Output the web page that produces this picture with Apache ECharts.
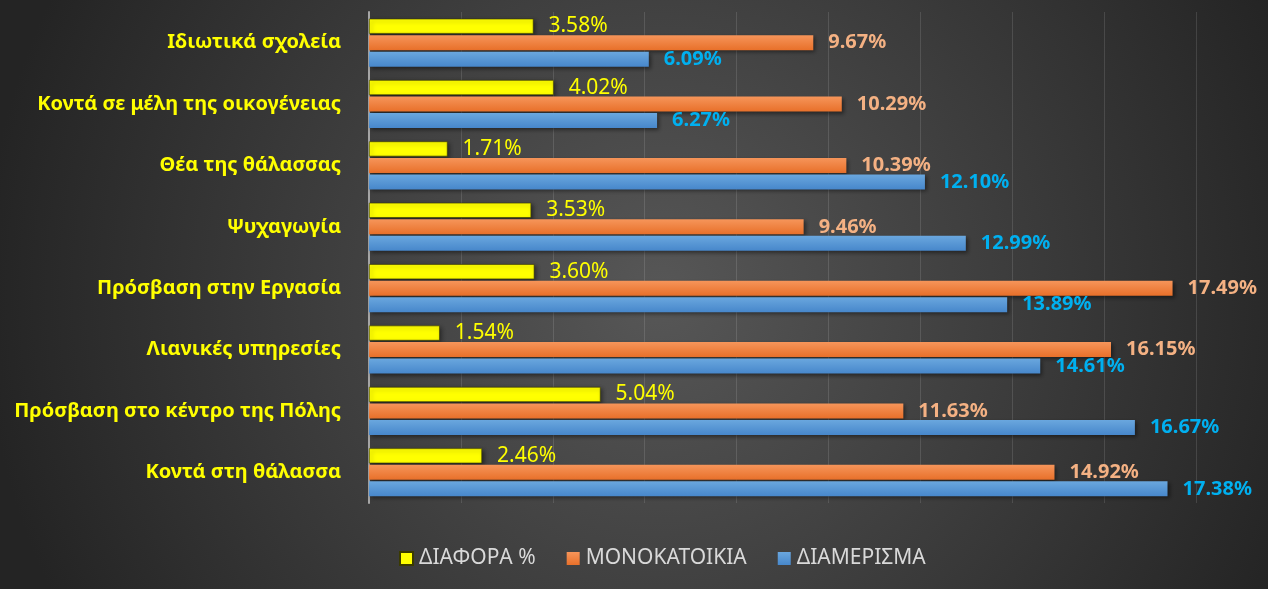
<!DOCTYPE html>
<html>
<head>
<meta charset="utf-8">
<script src="https://cdn.jsdelivr.net/npm/echarts@6/dist/echarts.min.js"></script>
<style>
  html, body { margin: 0; padding: 0; }
  #chart { width: 1268px; height: 589px; }
</style>
</head>
<body>
<div id="chart"></div>
<script>
const categories = [
  'Ιδιωτικά σχολεία',
  'Κοντά σε μέλη της οικογένειας',
  'Θέα της θάλασσας',
  'Ψυχαγωγία',
  'Πρόσβαση στην Εργασία',
  'Λιανικές υπηρεσίες',
  'Πρόσβαση στο κέντρο της Πόλης',
  'Κοντά στη θάλασσα'
];
const diafora = [3.58, 4.02, 1.71, 3.53, 3.60, 1.54, 5.04, 2.46];
const monokatoikia = [9.67, 10.29, 10.39, 9.46, 17.49, 16.15, 11.63, 14.92];
const diamerisma = [6.09, 6.27, 12.10, 12.99, 13.89, 14.61, 16.67, 17.38];

const font = '"Noto Sans", sans-serif';
const pct = p => p.value.toFixed(2) + '%';

function grad(top, bottom) {
  return new echarts.graphic.LinearGradient(0, 0, 0, 1, [
    { offset: 0, color: top },
    { offset: 1, color: bottom }
  ]);
}

const shadow = { shadowColor: 'rgba(0,0,0,0.45)', shadowBlur: 4, shadowOffsetX: 2, shadowOffsetY: 2 };

const chart = echarts.init(document.getElementById('chart'));
chart.setOption({
  backgroundColor: new echarts.graphic.RadialGradient(0.52, 0.5, 1.15, [
    { offset: 0, color: '#575757' },
    { offset: 1, color: '#242424' }
  ]),
  animation: false,
  grid: { left: 369, right: 72, top: 12, bottom: 86 },
  legend: {
    left: 394,
    top: 543,
    itemWidth: 13,
    itemHeight: 13,
    itemGap: 31,
    icon: 'rect',
    textStyle: { color: '#d9d9d9', fontSize: 21, fontFamily: font, padding: [0, 0, 0, 1] }
  },
  xAxis: {
    type: 'value',
    min: 0,
    max: 18,
    interval: 2,
    axisLabel: { show: false },
    axisLine: { show: false },
    axisTick: { show: false },
    splitLine: { lineStyle: { color: 'rgba(255,255,255,0.12)', width: 1 } }
  },
  yAxis: {
    type: 'category',
    inverse: true,
    data: categories,
    axisTick: { show: false },
    axisLine: { lineStyle: { color: '#a6a6a6', width: 2 } },
    axisLabel: {
      color: '#ffff00',
      fontWeight: 'bold',
      fontSize: 20,
      fontFamily: font,
      margin: 28
    }
  },
  series: [
    {
      name: 'ΔΙΑΦΟΡΑ %',
      type: 'bar',
      data: diafora,
      barWidth: 15,
      barGap: '10%',
      itemStyle: Object.assign({ color: '#ffff00', borderColor: '#3a3a00', borderWidth: 0.6 }, shadow),
      label: {
        show: true, position: 'right', distance: 15, formatter: pct,
        color: '#ffff00', fontSize: 21, fontFamily: font
      }
    },
    {
      name: 'ΜΟΝΟΚΑΤΟΙΚΙΑ',
      type: 'bar',
      data: monokatoikia,
      barWidth: 15,
      barGap: '10%',
      itemStyle: Object.assign({ color: grad('#f6955a', '#e8702a') }, shadow),
      label: {
        show: true, position: 'right', distance: 15, formatter: pct,
        color: '#f4b183', fontWeight: 'bold', fontSize: 20, fontFamily: font
      }
    },
    {
      name: 'ΔΙΑΜΕΡΙΣΜΑ',
      type: 'bar',
      data: diamerisma,
      barWidth: 15,
      barGap: '10%',
      itemStyle: Object.assign({ color: grad('#6aa7de', '#4787cb') }, shadow),
      label: {
        show: true, position: 'right', distance: 15, formatter: pct,
        color: '#00b0f0', fontWeight: 'bold', fontSize: 20, fontFamily: font
      }
    }
  ]
});
</script>
</body>
</html>
